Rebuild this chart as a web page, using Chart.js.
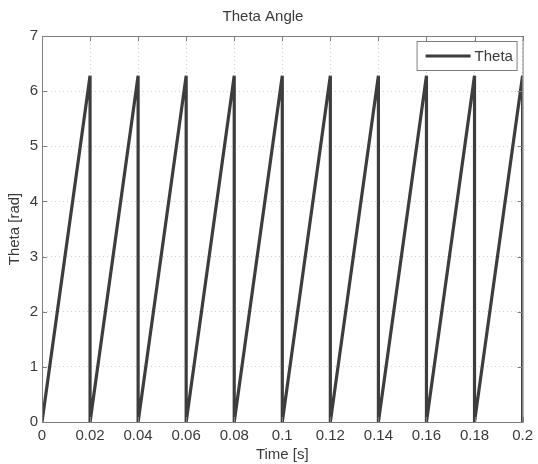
<!DOCTYPE html>
<html>
<head>
<meta charset="utf-8">
<script src="https://cdn.jsdelivr.net/npm/chart.js@4"></script>
<style>
  html, body { margin: 0; padding: 0; background: #fff; }
  #wrap { width: 538px; height: 464px; }
</style>
</head>
<body>
<div id="wrap"><canvas id="thetaChart" width="538" height="464"></canvas></div>
<script>
// sawtooth samples: rise 0 -> 2*pi over each 0.02 s, then drop back
const timeS = [0, 0.02, 0.02, 0.04, 0.04, 0.06, 0.06, 0.08, 0.08, 0.10, 0.10,
               0.12, 0.12, 0.14, 0.14, 0.16, 0.16, 0.18, 0.18, 0.20, 0.20];
const thetaRad = [0, 6.28, 0, 6.28, 0, 6.28, 0, 6.28, 0, 6.28, 0,
                  6.28, 0, 6.28, 0, 6.28, 0, 6.28, 0, 6.28, 0];
const xTicks = [0, 0.02, 0.04, 0.06, 0.08, 0.1, 0.12, 0.14, 0.16, 0.18, 0.2];
const yTicks = [0, 1, 2, 3, 4, 5, 6, 7];

const textColor = '#3a3a3a';
const axisColor = '#7f7f7f';
const lineColor = '#3d3d3d';
const fontFamily = '"Liberation Sans", Arial, sans-serif';
const fontSize = 15;

// top/right frame, inward ticks and the boxed legend, MATLAB style
const boxPlugin = {
  id: 'boxPlugin',
  afterDraw(chart) {
    const { ctx, chartArea: a, scales } = chart;
    ctx.save();
    ctx.strokeStyle = axisColor;
    ctx.lineWidth = 1;
    ctx.strokeRect(a.left + 0.5, a.top + 0.5, a.right - a.left, a.bottom - a.top);
    ctx.beginPath();
    xTicks.forEach(v => {
      const x = Math.round(scales.x.getPixelForValue(v)) + 0.5;
      ctx.moveTo(x, a.bottom); ctx.lineTo(x, a.bottom - 5);
      ctx.moveTo(x, a.top); ctx.lineTo(x, a.top + 5);
    });
    yTicks.forEach(v => {
      const y = Math.round(scales.y.getPixelForValue(v)) + 0.5;
      ctx.moveTo(a.left, y); ctx.lineTo(a.left + 5, y);
      ctx.moveTo(a.right, y); ctx.lineTo(a.right - 5, y);
    });
    ctx.stroke();

    // legend
    const lx = a.right - 106, ly = a.top + 5, lw = 100, lh = 29;
    ctx.fillStyle = '#fff';
    ctx.fillRect(lx, ly, lw, lh);
    ctx.strokeStyle = axisColor;
    ctx.strokeRect(lx + 0.5, ly + 0.5, lw, lh);
    ctx.strokeStyle = lineColor;
    ctx.lineWidth = 3;
    ctx.beginPath();
    ctx.moveTo(lx + 9, ly + lh / 2 + 0.5);
    ctx.lineTo(lx + 54, ly + lh / 2 + 0.5);
    ctx.stroke();
    ctx.fillStyle = textColor;
    ctx.font = fontSize + 'px ' + fontFamily;
    ctx.textBaseline = 'middle';
    ctx.fillText(chart.data.datasets[0].label, lx + 58, ly + lh / 2 + 1);
    ctx.restore();
  }
};

new Chart(document.getElementById('thetaChart'), {
  type: 'scatter',
  data: {
    datasets: [{
      label: 'Theta',
      data: timeS.map((t, i) => ({ x: t, y: thetaRad[i] })),
      showLine: true,
      borderColor: lineColor,
      borderWidth: 3.2,
      pointRadius: 0,
      tension: 0
    }]
  },
  options: {
    responsive: false,
    animation: false,
    layout: { padding: { left: 0, right: 12, top: 0, bottom: 0 } },
    plugins: {
      legend: { display: false },
      tooltip: { enabled: false },
      title: {
        display: true,
        text: 'Theta Angle',
        color: textColor,
        font: { family: fontFamily, size: fontSize, weight: 'normal' },
        padding: { top: 8, bottom: 10 }
      }
    },
    scales: {
      x: {
        type: 'linear',
        min: 0,
        max: 0.2,
        afterBuildTicks: s => { s.ticks = xTicks.map(v => ({ value: v })); },
        afterFit: s => { s.height = 42; },
        ticks: {
          color: textColor,
          font: { family: fontFamily, size: fontSize },
          padding: 5,
          maxRotation: 0,
          callback: v => String(Number(v.toFixed(2)))
        },
        grid: { color: '#cfcfcf', drawTicks: false, lineWidth: 1 },
        border: { color: axisColor, dash: [1, 3] },
        title: {
          display: true,
          text: 'Time [s]',
          color: textColor,
          font: { family: fontFamily, size: fontSize },
          padding: { top: 0, bottom: 0 }
        }
      },
      y: {
        min: 0,
        max: 7,
        afterBuildTicks: s => { s.ticks = yTicks.map(v => ({ value: v })); },
        afterFit: s => { s.width = 42; },
        ticks: {
          color: textColor,
          font: { family: fontFamily, size: fontSize },
          padding: 4
        },
        grid: { color: '#cfcfcf', drawTicks: false, lineWidth: 1 },
        border: { color: axisColor, dash: [1, 3] },
        title: {
          display: true,
          text: 'Theta [rad]',
          color: textColor,
          font: { family: fontFamily, size: fontSize },
          padding: { top: 6, bottom: 0 }
        }
      }
    }
  },
  plugins: [boxPlugin]
});
</script>
</body>
</html>
